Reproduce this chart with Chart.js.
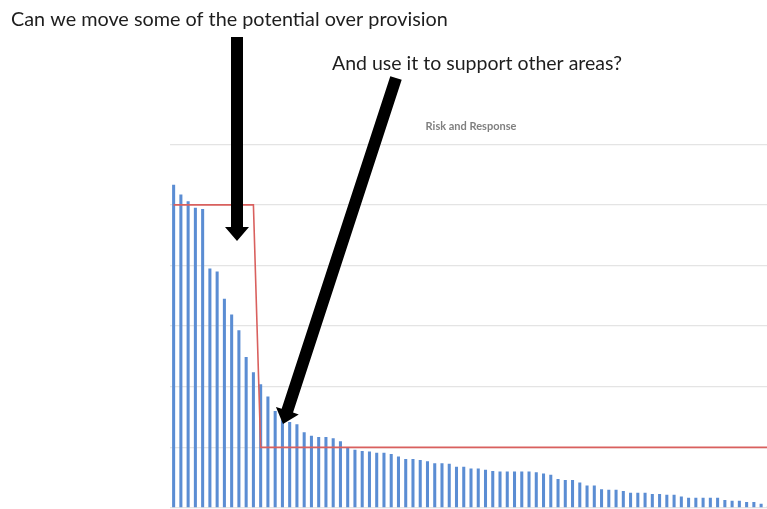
<!DOCTYPE html>
<html>
<head>
<meta charset="utf-8">
<script src="https://cdn.jsdelivr.net/npm/chart.js@4"></script>
<style>
  html, body { margin: 0; padding: 0; background: #fff; overflow: hidden; }
  #wrap { position: relative; width: 767px; height: 509px; overflow: hidden; }
  #riskChart { position: absolute; left: 0; top: 0; }
</style>
</head>
<body>
<div id="wrap">
  <canvas id="riskChart" width="775" height="509"></canvas>
</div>
<script>
// risk score per area, sorted high to low
const riskValues = [
  5.33, 5.17, 5.06, 4.95, 4.93, 3.95, 3.90, 3.45, 3.19, 2.93,
  2.49, 2.24, 2.04, 1.84, 1.60, 1.46, 1.42, 1.38, 1.25, 1.19,
  1.17, 1.17, 1.15, 1.10, 0.99, 0.96, 0.94, 0.93, 0.91, 0.91,
  0.89, 0.85, 0.81, 0.81, 0.79, 0.77, 0.74, 0.74, 0.73, 0.68,
  0.68, 0.65, 0.65, 0.63, 0.61, 0.60, 0.60, 0.60, 0.60, 0.60,
  0.59, 0.57, 0.55, 0.48, 0.46, 0.46, 0.42, 0.37, 0.37, 0.31,
  0.30, 0.30, 0.28, 0.25, 0.25, 0.25, 0.23, 0.23, 0.22, 0.22,
  0.19, 0.17, 0.17, 0.17, 0.17, 0.17, 0.13, 0.12, 0.12, 0.10,
  0.10, 0.07, 0.03
];

// response / provision level for the same areas
const responseLevel = [
  5, 5, 5, 5, 5, 5, 5, 5, 5, 5,
  5, 5, 1, 1, 1, 1, 1, 1, 1, 1,
  1, 1, 1, 1, 1, 1, 1, 1, 1, 1,
  1, 1, 1, 1, 1, 1, 1, 1, 1, 1,
  1, 1, 1, 1, 1, 1, 1, 1, 1, 1,
  1, 1, 1, 1, 1, 1, 1, 1, 1, 1,
  1, 1, 1, 1, 1, 1, 1, 1, 1, 1,
  1, 1, 1, 1, 1, 1, 1, 1, 1, 1,
  1, 1, 1
];

const areaLabels = riskValues.map((v, i) => "Area " + (i + 1));

const chartTitle = "Risk and Response";
const noteLeft = "Can we move some of the potential over provision";
const noteRight = "And use it to support other areas?";

// text squeezed/stretched to the width it has in the picture
function fitText(ctx, text, x, y, width) {
  let size = 19;
  ctx.font = `${size}px Lato`;
  let w = ctx.measureText(text).width;
  size = size * width / w;
  ctx.font = `${size}px Lato`;
  ctx.fillText(text, x, y);
}

function drawArrow(ctx, x1, y1, x2, y2) {
  const shaft = 6;
  const headLen = 14;
  const headHalf = 12;
  let dx = x2 - x1;
  let dy = y2 - y1;
  let len = Math.sqrt(dx * dx + dy * dy);
  let ux = dx / len;
  let uy = dy / len;
  let px = -uy;
  let py = ux;
  let bx = x2 - ux * headLen;
  let by = y2 - uy * headLen;
  ctx.beginPath();
  ctx.moveTo(x1 + px * shaft, y1 + py * shaft);
  ctx.lineTo(bx + px * shaft, by + py * shaft);
  ctx.lineTo(bx + px * headHalf, by + py * headHalf);
  ctx.lineTo(x2, y2);
  ctx.lineTo(bx - px * headHalf, by - py * headHalf);
  ctx.lineTo(bx - px * shaft, by - py * shaft);
  ctx.lineTo(x1 - px * shaft, y1 - py * shaft);
  ctx.closePath();
  ctx.fill();
}

const annotations = {
  id: "annotations",
  afterDraw(chart) {
    const ctx = chart.ctx;
    ctx.save();
    ctx.fillStyle = "#1e1e1e";
    ctx.textBaseline = "alphabetic";
    fitText(ctx, noteLeft, 11, 26, 437);
    fitText(ctx, noteRight, 332, 70, 290);
    ctx.fillStyle = "#000";
    drawArrow(ctx, 237, 37, 237, 241);
    drawArrow(ctx, 396, 78, 283, 424);
    ctx.restore();
  },
};

const ctx = document.getElementById("riskChart").getContext("2d");
const riskChart = new Chart(ctx, {
  type: "bar",
  data: {
    labels: areaLabels,
    datasets: [
      {
        type: "line",
        label: "Response",
        data: responseLevel,
        borderColor: "#d9605e",
        borderWidth: 1.6,
        pointRadius: 0,
        tension: 0,
        fill: false,
        order: 0,
      },
      {
        type: "bar",
        label: "Risk",
        data: riskValues,
        backgroundColor: "#5b8dd3",
        barPercentage: 0.42,
        categoryPercentage: 1,
        order: 1,
      },
    ],
  },
  options: {
    responsive: false,
    animation: false,
    devicePixelRatio: 1,
    layout: {
      padding: { top: 120, left: 170, right: 3, bottom: 1 },
    },
    plugins: {
      legend: { display: false },
      tooltip: { enabled: false },
      title: {
        display: true,
        text: chartTitle,
        color: "#808080",
        font: { family: "Lato", size: 11 },
        padding: { top: 0, bottom: 11 },
      },
    },
    scales: {
      x: {
        display: false,
      },
      y: {
        min: 0,
        max: 6,
        ticks: { display: false, stepSize: 1 },
        grid: { color: "#e4e4e4", lineWidth: 1.3, drawTicks: false },
        border: { display: false },
      },
    },
  },
  plugins: [annotations],
});
</script>
</body>
</html>
